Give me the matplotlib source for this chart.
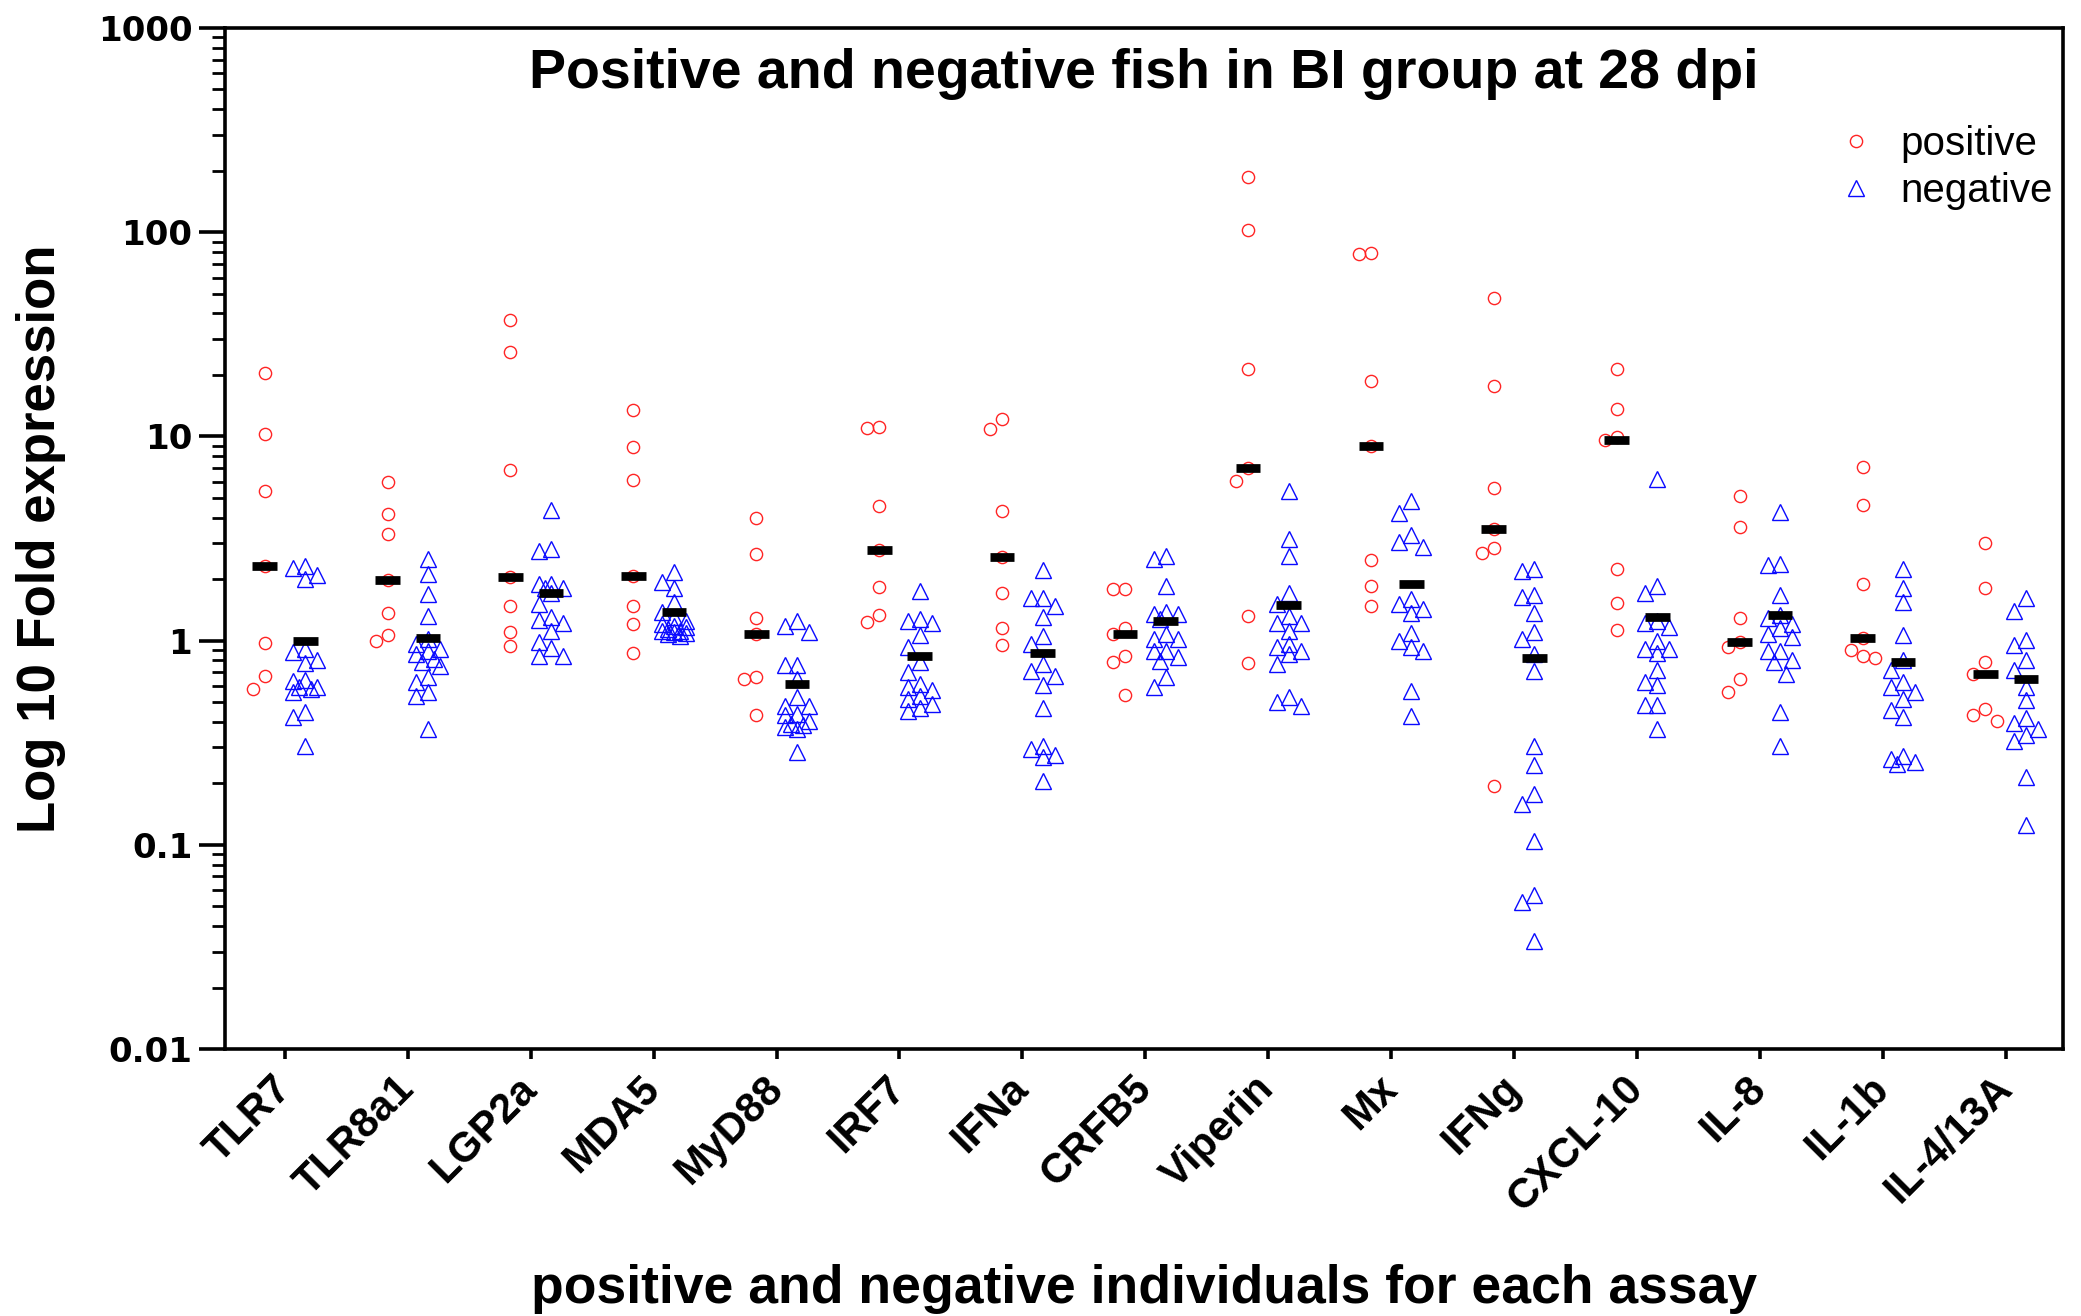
import numpy as np
import matplotlib
matplotlib.use("Agg")
import matplotlib.pyplot as plt
from matplotlib.ticker import LogLocator, NullFormatter, FixedLocator
from matplotlib.lines import Line2D

# ---------------- data ----------------
genes = ["TLR7", "TLR8a1", "LGP2a", "MDA5", "MyD88", "IRF7", "IFNa", "CRFB5",
         "Viperin", "Mx", "IFNg", "CXCL-10", "IL-8", "IL-1b", "IL-4/13A"]

positive = [
    [20.4, 10.3, 5.4, 2.33, 0.975, 0.668, 0.58],          # TLR7
    [6.0, 4.17, 3.33, 1.97, 1.36, 1.07, 0.99],            # TLR8a1
    [37.3, 25.8, 6.85, 2.06, 1.47, 1.10, 0.945],          # LGP2a
    [13.5, 8.9, 6.1, 2.08, 1.48, 1.20, 0.867],            # MDA5
    [3.97, 2.67, 1.29, 1.08, 0.667, 0.647, 0.431],        # MyD88
    [11.1, 11.0, 4.58, 2.79, 1.84, 1.34, 1.23],           # IRF7
    [12.2, 10.9, 4.33, 2.56, 1.71, 1.15, 0.956],          # IFNa
    [1.79, 1.79, 1.15, 1.08, 0.845, 0.783, 0.544],        # CRFB5
    [187, 103, 21.5, 7.0, 6.05, 1.32, 0.78],              # Viperin
    [79.3, 78.2, 18.6, 9.0, 2.49, 1.85, 1.48],            # Mx
    [47.6, 17.6, 5.58, 3.51, 2.83, 2.69, 0.194],          # IFNg
    [21.5, 13.6, 9.94, 9.6, 2.25, 1.53, 1.13],            # CXCL-10
    [5.11, 3.59, 1.29, 0.985, 0.93, 0.645, 0.56],         # IL-8
    [7.07, 4.61, 1.90, 1.03, 0.904, 0.844, 0.818],        # IL-1b
    [3.01, 1.81, 0.79, 0.689, 0.461, 0.434, 0.405],       # IL-4/13A
]

negative = [
    [2.33, 2.28, 2.10, 2.0, 0.91, 0.877, 0.80, 0.775, 0.642, 0.637, 0.595, 0.59, 0.58, 0.558, 0.446, 0.421, 0.306],
    [2.51, 2.12, 1.69, 1.32, 1.02, 0.963, 0.91, 0.894, 0.86, 0.814, 0.783, 0.755, 0.661, 0.625, 0.558, 0.538, 0.369],
    [4.36, 2.81, 2.76, 1.89, 1.89, 1.81, 1.81, 1.72, 1.51, 1.30, 1.26, 1.22, 1.12, 0.98, 0.92, 0.845, 0.845],
    [2.16, 1.93, 1.81, 1.54, 1.38, 1.30, 1.25, 1.20, 1.18, 1.16, 1.14, 1.12, 1.12, 1.10, 1.09, 1.08, 1.05],
    [1.25, 1.18, 1.10, 0.763, 0.763, 0.649, 0.528, 0.481, 0.481, 0.438, 0.43, 0.403, 0.391, 0.384, 0.377, 0.369, 0.284],
    [1.74, 1.28, 1.25, 1.22, 1.06, 0.93, 0.783, 0.70, 0.614, 0.59, 0.57, 0.538, 0.519, 0.49, 0.468, 0.45],
    [2.22, 1.61, 1.61, 1.47, 1.30, 1.05, 0.963, 0.769, 0.713, 0.674, 0.603, 0.469, 0.306, 0.295, 0.274, 0.268, 0.205],
    [2.61, 2.51, 1.86, 1.38, 1.35, 1.35, 1.28, 1.08, 1.02, 1.02, 0.894, 0.894, 0.829, 0.798, 0.661, 0.59],
    [5.42, 3.16, 2.61, 1.71, 1.51, 1.32, 1.22, 1.22, 1.12, 0.963, 0.93, 0.894, 0.86, 0.769, 0.528, 0.499, 0.481],
    [4.80, 4.23, 3.29, 3.05, 2.86, 1.60, 1.51, 1.43, 1.36, 1.09, 1.0, 0.935, 0.889, 0.565, 0.428],
    [2.25, 2.20, 1.67, 1.63, 1.36, 1.10, 1.02, 0.858, 0.709, 0.305, 0.246, 0.178, 0.158, 0.104, 0.0567, 0.0526, 0.0338],
    [6.17, 1.86, 1.71, 1.25, 1.22, 1.17, 1.0, 0.912, 0.912, 0.867, 0.716, 0.625, 0.604, 0.486, 0.486, 0.368],
    [4.27, 2.37, 2.35, 1.68, 1.34, 1.29, 1.21, 1.155, 1.08, 1.04, 0.891, 0.891, 0.80, 0.784, 0.689, 0.447, 0.304],
    [2.25, 1.80, 1.54, 1.07, 0.807, 0.719, 0.627, 0.592, 0.562, 0.52, 0.457, 0.423, 0.272, 0.263, 0.255, 0.25],
    [1.62, 1.40, 1.01, 0.952, 0.80, 0.719, 0.592, 0.509, 0.42, 0.393, 0.368, 0.345, 0.324, 0.215, 0.125],
]

# central bar values as drawn in the reference
pos_center = [2.33, 1.97, 2.06, 2.08, 1.08, 2.79, 2.56, 1.08, 7.0, 9.0, 3.51, 9.57, 0.98, 1.03, 0.689]
neg_center = [1.0, 1.03, 1.72, 1.38, 0.614, 0.845, 0.87, 1.25, 1.50, 1.89, 0.825, 1.31, 1.33, 0.783, 0.651]

ytick_vals = [0.01, 0.1, 1, 10, 100, 1000]
ytick_labels = ["0.01", "0.1", "1", "10", "100", "1000"]

title = "Positive and negative fish in BI group at 28 dpi"
xlabel = "positive and negative individuals for each assay"
ylabel = "Log 10 Fold expression"

# ---------------- figure ----------------
SANS = ["Liberation Sans", "DejaVu Sans"]
plt.rcParams["font.family"] = SANS

fig = plt.figure(figsize=(20.81, 13.16), dpi=100)
ax = fig.add_axes([0.1081, 0.2029, 0.8833, 0.7758])
ax.set_yscale("log")
ax.set_ylim(0.01, 1000)
ax.set_xlim(-0.488, 14.467)

RED = "#FF2424"
BLUE = "#0A0AFF"
OFF = 0.165


def swarm_x(vals, center, wx, wy, step=6.0, maxsteps=2):
    """Deterministic horizontal spreading of points that overlap (pixel space)."""
    tr = ax.transData
    xc = tr.transform((center, 1.0))[0]
    px_per_unit = tr.transform((center + 1.0, 1.0))[0] - xc
    ys = [tr.transform((center, v))[1] for v in vals]
    cands = [0.0]
    for k in range(1, maxsteps + 1):
        cands += [-k * step, k * step]
    placed = []
    out = [0.0] * len(vals)
    order = sorted(range(len(vals)), key=lambda i: -vals[i])
    for i in order:
        chosen = None
        for o in cands:
            if all(not (abs(o - po) < wx and abs(ys[i] - py) < wy) for po, py in placed):
                chosen = o
                break
        if chosen is None:
            best, bestd = 0.0, -1
            for o in cands:
                d = min(np.hypot(o - po, ys[i] - py) for po, py in placed)
                if d > bestd:
                    best, bestd = o, d
            chosen = best
        placed.append((chosen, ys[i]))
        out[i] = center + chosen / px_per_unit
    return out


for g in range(len(genes)):
    xp = swarm_x(positive[g], g - OFF, wx=10, wy=13)
    ax.plot(xp, positive[g], linestyle="none", marker="o", markersize=8.8,
            markerfacecolor="none", markeredgecolor=RED, markeredgewidth=1.0, zorder=3)
    xn = swarm_x(negative[g], g + OFF, wx=10, wy=13)
    ax.plot(xn, negative[g], linestyle="none", marker="^", markersize=11.0,
            markerfacecolor="none", markeredgecolor=BLUE, markeredgewidth=1.0, zorder=3)
    for c, val in ((g - OFF, pos_center[g]), (g + OFF, neg_center[g])):
        ax.plot([c - 0.1, c + 0.1], [val, val], color="black", linewidth=6.3,
                solid_capstyle="butt", zorder=5)

# axes styling
for sp in ax.spines.values():
    sp.set_linewidth(2.6)
    sp.set_color("black")

ax.yaxis.set_major_locator(FixedLocator(ytick_vals))
ax.set_yticklabels(ytick_labels)
ax.yaxis.set_minor_locator(LogLocator(base=10, subs=np.arange(2, 10), numticks=100))
ax.yaxis.set_minor_formatter(NullFormatter())
ax.tick_params(axis="y", which="major", direction="out", length=18.5, width=2.6, pad=5)
ax.tick_params(axis="y", which="minor", direction="out", length=9.4, width=2.0)
for lab in ax.get_yticklabels():
    lab.set_fontfamily(["DejaVu Sans"])
    lab.set_fontweight("bold")
    lab.set_fontsize(24.5)

ax.set_xticks(range(len(genes)))
ax.set_xticklabels(genes, rotation=45, ha="right", va="center",
                   rotation_mode="anchor", fontsize=30, fontweight="bold")
ax.tick_params(axis="x", which="major", direction="out", length=7.2, width=2.6, pad=17)

ax.set_ylabel(ylabel, fontsize=38, fontweight="bold", va="center")
ax.yaxis.set_label_coords(-0.1, 0.5)
ax.set_xlabel(xlabel, fontsize=38.5, fontweight="bold", va="center")
ax.xaxis.set_label_coords(0.5, -0.235)

ax.text(0.5, 0.955, title, transform=ax.transAxes, ha="center", va="center",
        fontsize=40, fontweight="bold")

handles = [
    Line2D([], [], linestyle="none", marker="o", markersize=8.8, markerfacecolor="none",
           markeredgecolor=RED, markeredgewidth=1.0, label="positive"),
    Line2D([], [], linestyle="none", marker="^", markersize=11.0, markerfacecolor="none",
           markeredgecolor=BLUE, markeredgewidth=1.0, label="negative"),
]
ax.legend(handles=handles, loc="upper left", bbox_to_anchor=(0.8765, 0.905),
          frameon=False, fontsize=29, handlelength=1.0, handletextpad=0.6,
          labelspacing=0.22, borderpad=0.0, borderaxespad=0.0)

fig.savefig("out.png", dpi=100)
